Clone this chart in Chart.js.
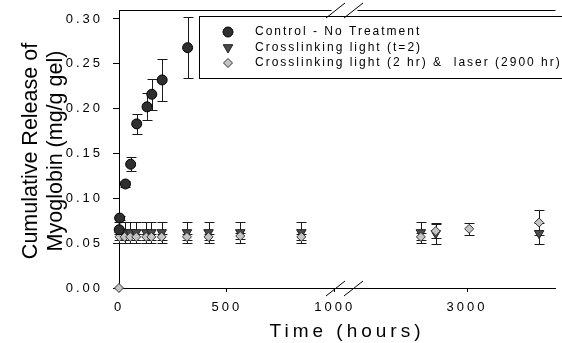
<!DOCTYPE html>
<html>
<head>
<meta charset="utf-8">
<script src="https://cdn.jsdelivr.net/npm/chart.js@4"></script>
<style>
  html, body { margin:0; padding:0; background:#fff; }
</style>
</head>
<body>
<canvas id="c" width="562" height="343"></canvas>
<script>
// values (hours, mg/g gel, +/- error)
const ctrlHours = [1, 3, 30, 54, 82, 130, 152, 200, 318];
const ctrlVals  = [0.065, 0.078, 0.116, 0.138, 0.183, 0.202, 0.216, 0.232, 0.268];
const ctrlErr   = [0.002, 0.002, 0.003, 0.008, 0.011, 0.015, 0.017, 0.023, 0.034];

const lightHours = [2, 26, 52, 80, 126, 150, 198, 315, 415, 562, 845, 2786, 2855, 3334];
const lightVals  = [0.062, 0.062, 0.062, 0.062, 0.062, 0.062, 0.062, 0.062, 0.062, 0.062, 0.062, 0.062, 0.061, 0.061];
const lightErr   = [0.012, 0.012, 0.012, 0.012, 0.012, 0.012, 0.012, 0.012, 0.012, 0.012, 0.012, 0.012, 0.012, 0.012];

const laserHours = [0, 2, 26, 52, 80, 126, 150, 198, 315, 415, 562, 845, 2786, 2855, 3010, 3334];
const laserVals  = [0, 0.057, 0.057, 0.057, 0.057, 0.057, 0.057, 0.057, 0.057, 0.057, 0.058, 0.057, 0.057, 0.0635, 0.066, 0.073];
const laserErr   = [0, 0.003, 0.003, 0.003, 0.003, 0.003, 0.003, 0.003, 0.003, 0.003, 0.003, 0.003, 0.004, 0.008, 0.007, 0.014];

const xTickHours = [0, 500, 1000, 3000];
const yTicks = [0, 0.05, 0.10, 0.15, 0.20, 0.25, 0.30];

const seriesNames = ['Control - No Treatment', 'Crosslinking light (t=2)', 'Crosslinking light (2 hr) &  laser (2900 hr)'];

// broken time axis: 0-1000 h, then the axis picks up again around 2400 h
const SHIFT = 1387;
const axisPos = h => h <= 1000 ? h : h - SHIFT;
const hoursAt = p => p <= 1000 ? p : p + SHIFT;
const pts = (hrs, vals) => hrs.map((h, i) => ({ x: axisPos(h), y: vals[i] }));

const errorBars = {
  id: 'errorBars',
  beforeDatasetsDraw(chart) {
    const ctx = chart.ctx;
    ctx.save();
    ctx.strokeStyle = '#1a1a1a';
    ctx.lineWidth = 1;
    chart.data.datasets.forEach((ds, i) => {
      const meta = chart.getDatasetMeta(i);
      ds.data.forEach((p, j) => {
        const e = ds.errors[j];
        if (!e) return;
        const x = Math.round(meta.xScale.getPixelForValue(p.x)) + 0.5;
        const y1 = Math.round(meta.yScale.getPixelForValue(p.y + e)) + 0.5;
        const y2 = Math.round(meta.yScale.getPixelForValue(p.y - e)) + 0.5;
        ctx.beginPath();
        ctx.moveTo(x, y1); ctx.lineTo(x, y2);
        ctx.moveTo(x - 5, y1); ctx.lineTo(x + 5, y1);
        ctx.moveTo(x - 5, y2); ctx.lineTo(x + 5, y2);
        ctx.stroke();
      });
    });
    ctx.restore();
  }
};

function marker(ctx, type, x, y) {
  ctx.beginPath();
  if (type === 'circle') {
    ctx.arc(x, y, 5, 0, Math.PI * 2);
    ctx.fillStyle = '#2f2f2f'; ctx.strokeStyle = '#000';
  } else if (type === 'tri') {
    ctx.moveTo(x - 4.8, y - 2.8); ctx.lineTo(x + 4.8, y - 2.8); ctx.lineTo(x, y + 5.5); ctx.closePath();
    ctx.fillStyle = '#4a4a4a'; ctx.strokeStyle = '#222';
  } else {
    ctx.moveTo(x, y - 4.5); ctx.lineTo(x + 4.5, y); ctx.lineTo(x, y + 4.5); ctx.lineTo(x - 4.5, y); ctx.closePath();
    ctx.fillStyle = '#c4c4c4'; ctx.strokeStyle = '#333';
  }
  ctx.fill(); ctx.stroke();
}

const decorations = {
  id: 'decorations',
  beforeDraw(chart) {
    chart.ctx.letterSpacing = '3px';
  },
  afterDraw(chart) {
    const ctx = chart.ctx;
    const a = chart.chartArea;
    const xs = chart.scales.x;
    const b1 = Math.round(xs.getPixelForValue(1000)) + 0.5;
    const b2 = Math.round(xs.getPixelForValue(1083)) + 0.5;
    ctx.save();
    ctx.strokeStyle = '#000';
    ctx.lineWidth = 1;
    // top frame with break
    const top = Math.round(a.top) + 0.5;
    ctx.beginPath();
    ctx.moveTo(a.left, top); ctx.lineTo(b1 - 4, top);
    ctx.moveTo(b2 + 4, top); ctx.lineTo(a.right, top);
    ctx.stroke();
    // break slashes, top and bottom
    [top, Math.round(a.bottom) + 0.5].forEach(y => {
      [b1, b2].forEach(x => {
        ctx.beginPath();
        ctx.moveTo(x - 9.5, y + 7.5); ctx.lineTo(x + 9.5, y - 7.5);
        ctx.stroke();
      });
    });

    // legend
    ctx.strokeRect(199.5, 16.5, 400, 62);
    const rows = [32, 47.5, 63];
    ['circle', 'tri', 'dia'].forEach((m, i) => marker(ctx, m, 228, rows[i]));
    ctx.fillStyle = '#000';
    ctx.letterSpacing = '2px';
    ctx.font = '12px "Liberation Sans", Arial, sans-serif';
    ctx.textAlign = 'left';
    ctx.textBaseline = 'middle';
    seriesNames.forEach((t, i) => ctx.fillText(t, 255, rows[i]));

    // axis titles
    ctx.letterSpacing = '4px';
    ctx.font = '19px "Liberation Sans", Arial, sans-serif';
    ctx.textAlign = 'center';
    ctx.textBaseline = 'alphabetic';
    ctx.fillText('Time (hours)', 347, 337);

    ctx.letterSpacing = '0px';
    ctx.font = '21.5px "Liberation Sans", Arial, sans-serif';
    ctx.translate(37, 151);
    ctx.rotate(-Math.PI / 2);
    ctx.fillText('Cumulative Release of', 0, 0);
    ctx.fillText('Myoglobin (mg/g gel)', 0, 25);
    ctx.restore();
  }
};

new Chart(document.getElementById('c'), {
  type: 'scatter',
  data: {
    datasets: [
      { label: seriesNames[0], data: pts(ctrlHours, ctrlVals), errors: ctrlErr,
        pointStyle: 'circle', pointRadius: 5, backgroundColor: '#2f2f2f', borderColor: '#000', borderWidth: 1, order: 1, clip: false },
      { label: seriesNames[1], data: pts(lightHours, lightVals), errors: lightErr,
        pointStyle: 'triangle', pointRotation: 180, pointRadius: 5.5, backgroundColor: '#4a4a4a', borderColor: '#222', borderWidth: 1, order: 3, clip: false },
      { label: seriesNames[2], data: pts(laserHours, laserVals), errors: laserErr,
        pointStyle: 'rectRot', pointRadius: 4.5, backgroundColor: '#c4c4c4', borderColor: '#333', borderWidth: 1, order: 2, clip: false }
    ]
  },
  options: {
    responsive: false, animation: false, devicePixelRatio: 1,
    layout: { padding: { top: 10, left: 0, right: 0, bottom: 0 } },
    plugins: { legend: { display: false }, tooltip: { enabled: false } },
    scales: {
      x: {
        type: 'linear', min: 0, max: 2023,
        afterBuildTicks: s => { s.ticks = xTickHours.map(h => ({ value: axisPos(h) })); },
        afterFit: s => { s.height = 55; s.paddingLeft = 0; s.paddingRight = 0; },
        ticks: { color: '#000', font: { size: 13, family: '"Liberation Sans", Arial' }, padding: 8, maxRotation: 0,
                 callback: v => String(Math.round(hoursAt(v))) },
        grid: { drawOnChartArea: false, tickLength: 4, color: '#000' },
        border: { color: '#000' }
      },
      y: {
        min: 0, max: 0.31,
        afterBuildTicks: s => { s.ticks = yTicks.map(v => ({ value: v })); },
        afterFit: s => { s.width = 119; s.paddingTop = 0; s.paddingBottom = 0; },
        ticks: { color: '#000', font: { size: 13, family: '"Liberation Sans", Arial' }, padding: 10,
                 callback: v => v.toFixed(2) },
        grid: { drawOnChartArea: false, tickLength: 6, color: '#000' },
        border: { color: '#000' }
      }
    }
  },
  plugins: [errorBars, decorations]
});
</script>
</body>
</html>
